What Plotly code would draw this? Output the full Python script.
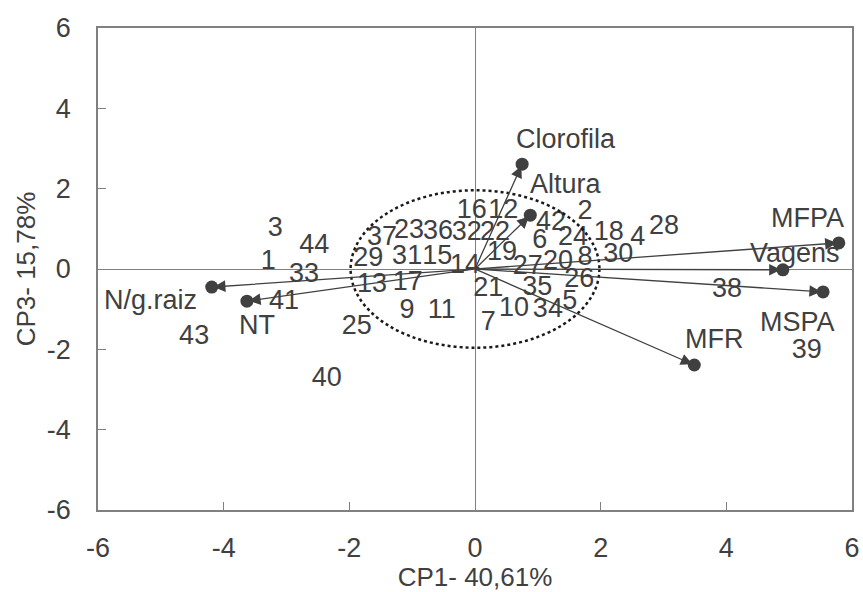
import plotly.graph_objects as go

# ---- data ----
genotypes = [str(i) for i in range(1, 45)]
cp1_scores = [-3.29, 1.75, -3.18, 2.59, 1.51, 1.03, 0.21, 1.75, -1.08, 0.62,
              -0.53, 0.45, -1.64, -0.16, -0.60, -0.05, -1.07, 2.13, 0.43, 1.32,
              0.21, 0.32, -1.05, 1.56, -1.88, 1.66, 0.84, 3.01, -1.70, 2.28,
              -1.08, -0.13, -2.72, 1.16, 0.99, -0.59, -1.48, 4.01, 5.28, -2.36,
              -3.04, 1.21, -4.47, -2.56]
cp3_scores = [0.17, 1.42, 1.00, 0.77, -0.82, 0.70, -1.34, 0.27, -1.05, -1.00,
              -1.05, 1.44, -0.40, 0.07, 0.30, 1.44, -0.35, 0.90, 0.40, 0.17,
              -0.50, 0.90, 0.95, 0.77, -1.44, -0.27, 0.05, 1.05, 0.25, 0.35,
              0.30, 0.90, -0.15, -1.02, -0.47, 0.92, 0.77, -0.52, -2.04, -2.74,
              -0.82, 1.15, -1.69, 0.57]

variables = ["Clorofila", "Altura", "MFPA", "Vagens", "MSPA", "MFR", "N/g.raiz", "NT"]
cp1_loadings = [0.75, 0.88, 5.79, 4.90, 5.54, 3.49, -4.19, -3.63]
cp3_loadings = [2.61, 1.34, 0.65, -0.02, -0.57, -2.39, -0.45, -0.80]

x_ticks = [-6, -4, -2, 0, 2, 4, 6]
y_ticks = [-6, -4, -2, 0, 2, 4, 6]
x_title = "CP1- 40,61%"
y_title = "CP3- 15,78%"
circle_rx = 1.98
circle_ry = 1.96

# ---- styles ----
TXT = "#404040"
AX = "#808080"
FONT = "Liberation Sans, Arial, sans-serif"
label_shift = {  # pixel offsets of variable names from their dots
    "Clorofila": (44, 25), "Altura": (36, 31), "MFPA": (-31, 25),
    "Vagens": (12, 17), "MSPA": (-26, -30), "MFR": (20, 26),
    "N/g.raiz": (-61, -13), "NT": (10, -24),
}

fig = go.Figure()

fig.add_shape(type="circle", xref="x", yref="y",
              x0=-circle_rx, x1=circle_rx, y0=-circle_ry, y1=circle_ry,
              line=dict(color="#1a1a1a", width=2.5, dash="dot"), layer="above")

fig.add_trace(go.Scatter(x=cp1_scores, y=cp3_scores, mode="text", text=genotypes,
                         textposition="middle center",
                         textfont=dict(size=27, color=TXT, family=FONT),
                         cliponaxis=False, hoverinfo="text", showlegend=False))

fig.add_trace(go.Scatter(x=cp1_loadings, y=cp3_loadings, mode="markers",
                         marker=dict(size=13, color=TXT),
                         text=variables, hoverinfo="text", showlegend=False))

annotations = []
for name, vx, vy in zip(variables, cp1_loadings, cp3_loadings):
    annotations.append(dict(x=vx, y=vy, ax=0, ay=0, xref="x", yref="y",
                            axref="x", ayref="y", text="", showarrow=True,
                            arrowhead=2, arrowsize=1.8, arrowwidth=1.3,
                            arrowcolor=TXT, standoff=2))
    dx, dy = label_shift[name]
    annotations.append(dict(x=vx, y=vy, xref="x", yref="y", text=name,
                            showarrow=False, xshift=dx, yshift=dy,
                            font=dict(size=27, color=TXT, family=FONT)))

fig.update_layout(
    width=863, height=592,
    margin=dict(l=98, r=11, t=28, b=82),
    plot_bgcolor="white", paper_bgcolor="white",
    font=dict(family=FONT, color=TXT),
    annotations=annotations,
    showlegend=False,
)

fig.update_xaxes(range=[-6, 6], tickvals=x_ticks, ticktext=[str(v) for v in x_ticks],
                 showline=True, mirror=True, linecolor=AX, linewidth=1.5,
                 ticks="inside", ticklen=8, tickcolor=AX, tickwidth=1.2,
                 showgrid=False, zeroline=True, zerolinecolor=AX, zerolinewidth=1.3,
                 tickfont=dict(size=27, color=TXT), ticklabelstandoff=13,
                 title=dict(text=x_title, font=dict(size=26, color=TXT), standoff=0),
                 automargin=False)
fig.update_yaxes(range=[-6, 6], tickvals=y_ticks, ticktext=[str(v) for v in y_ticks],
                 showline=True, mirror=True, linecolor=AX, linewidth=1.5,
                 ticks="inside", ticklen=8, tickcolor=AX, tickwidth=1.2,
                 showgrid=False, zeroline=True, zerolinecolor=AX, zerolinewidth=1.3,
                 tickfont=dict(size=27, color=TXT), ticklabelstandoff=20,
                 title=dict(text=y_title, font=dict(size=26, color=TXT), standoff=4),
                 automargin=False)

fig.write_html("out.html")
